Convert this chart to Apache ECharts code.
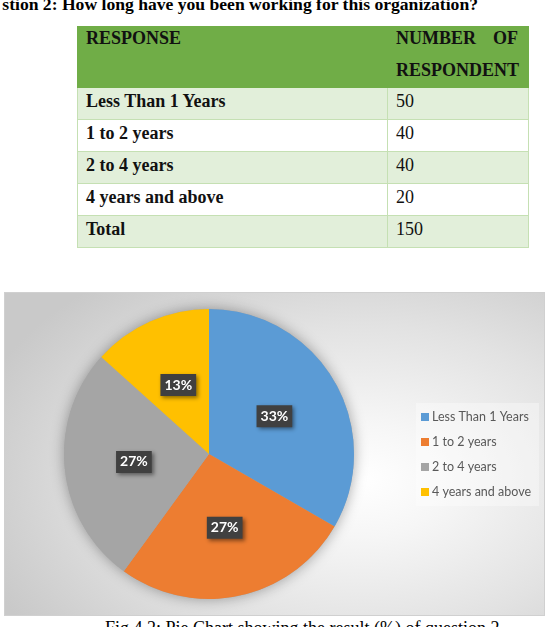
<!DOCTYPE html>
<html>
<head>
<meta charset="utf-8">
<script src="https://cdn.jsdelivr.net/npm/echarts@6/dist/echarts.min.js"></script>
<style>
  html, body {
    margin: 0;
    padding: 0;
    width: 554px;
    height: 627px;
    overflow: hidden;
    background: #fff;
    font-family: 'Liberation Serif', 'Times New Roman', serif;
  }
  .title {
    position: absolute;
    right: 76px;
    top: -6px;
    white-space: nowrap;
    font-weight: bold;
    font-size: 17.6px;
    line-height: 20px;
    color: #000;
  }
  table {
    position: absolute;
    left: 77px;
    top: 26px;
    width: 451px;
    border-collapse: collapse;
    table-layout: fixed;
    font-size: 18px;
    color: #111;
  }
  td {
    border: 1px solid #c5e0b3;
    vertical-align: top;
    padding: 3px 10px 0 8px;
    line-height: 20px;
    height: 32px;
    box-sizing: border-box;
  }
  td.c1 { width: 310px; font-weight: bold; }
  td.c2 { width: 141px; }
  tr.head td {
    background: #70ad47;
    border-color: #70ad47;
    font-weight: bold;
    height: 61px;
    line-height: 32px;
    padding-top: 0;
  }
  tr.head td div { margin: -5px 0 -10px 0; }
  tr.head td.c2 div { text-align: justify; }
  tr.shade td { background: #e2efda; }
  tr.plain td { background: #fff; }
  .chartbox {
    position: absolute;
    left: 4px;
    top: 292px;
    width: 541px;
    height: 324px;
    box-sizing: border-box;
    border: 1px solid #d0d0d0;
    background: radial-gradient(ellipse 75% 80% at 66% 58%, #ffffff 0%, #f6f6f6 22%, #e2e2e2 60%, #c9c9c9 100%);
  }
  #chart { width: 100%; height: 100%; }
  .caption {
    position: absolute;
    left: 105px;
    top: 618px;
    white-space: nowrap;
    font-size: 18px;
    line-height: 20px;
    color: #000;
  }
</style>
</head>
<body>
<div class="title">stion 2: How long have you been working for this organization?</div>
<table id="tbl"></table>
<div class="chartbox"><div id="chart"></div></div>
<div class="caption">Fig 4.2: Pie Chart showing the result (%) of question 2</div>
<script>
// 数据
const headers = ['RESPONSE', 'NUMBER OF RESPONDENT']
const categories = ['Less Than 1 Years', '1 to 2 years', '2 to 4 years', '4 years and above']
const counts = [50, 40, 40, 20]
const colors = ['#5b9bd5', '#ed7d31', '#a5a5a5', '#ffc000']

const total = counts.reduce((a, b) => a + b, 0)

// table
let html = '<tr class="head"><td class="c1"><div>' + headers[0] + '</div></td><td class="c2"><div>' + headers[1] + '</div></td></tr>'
categories.forEach((c, i) => {
  html += '<tr class="' + (i % 2 === 0 ? 'shade' : 'plain') + '"><td class="c1">' + c + '</td><td class="c2">' + counts[i] + '</td></tr>'
})
html += '<tr class="' + (categories.length % 2 === 0 ? 'shade' : 'plain') + '"><td class="c1">Total</td><td class="c2">' + total + '</td></tr>'
document.getElementById('tbl').innerHTML = html

const myChart = echarts.init(document.getElementById('chart'))
const option = {
  backgroundColor: 'transparent',
  animation: false,
  color: colors,
  legend: {
    data: categories,
    orient: 'vertical',
    left: 411,
    top: 110,
    padding: [6, 8, 6, 5],
    backgroundColor: 'rgba(255,255,255,0.35)',
    icon: 'rect',
    itemWidth: 8,
    itemHeight: 8,
    itemGap: 9,
    textStyle: {
      color: '#595959',
      fontFamily: 'Lato',
      fontSize: 12.5,
      lineHeight: 16,
      padding: [0, 0, 0, -2]
    }
  },
  series: [
    {
      // shadow behind the pie
      name: 'shadow',
      type: 'pie',
      silent: true,
      center: [204, 161],
      radius: 145,
      z: 1,
      label: { show: false },
      labelLine: { show: false },
      itemStyle: {
        color: '#a5a5a5',
        shadowBlur: 14,
        shadowColor: 'rgba(0,0,0,0.35)'
      },
      data: [{ name: 'all', value: total }]
    },
    {
      name: 'Q2',
      type: 'pie',
      center: [204, 161],
      radius: 145,
      startAngle: 90,
      clockwise: true,
      z: 2,
      itemStyle: { borderWidth: 0 },
      label: {
        show: true,
        position: 'inside',
        formatter: (p) => Math.round(p.percent) + '%',
        color: '#fff',
        fontFamily: 'Lato',
        fontWeight: 'bold',
        fontSize: 14,
        lineHeight: 16,
        backgroundColor: '#404040',
        padding: [3, 4],
        shadowBlur: 4,
        shadowOffsetX: 2,
        shadowOffsetY: 2,
        shadowColor: 'rgba(0,0,0,0.45)'
      },
      labelLine: { show: false },
      data: categories.map((c, i) => ({ name: c, value: counts[i] }))
    }
  ]
}
myChart.setOption(option)
</script>
</body>
</html>
